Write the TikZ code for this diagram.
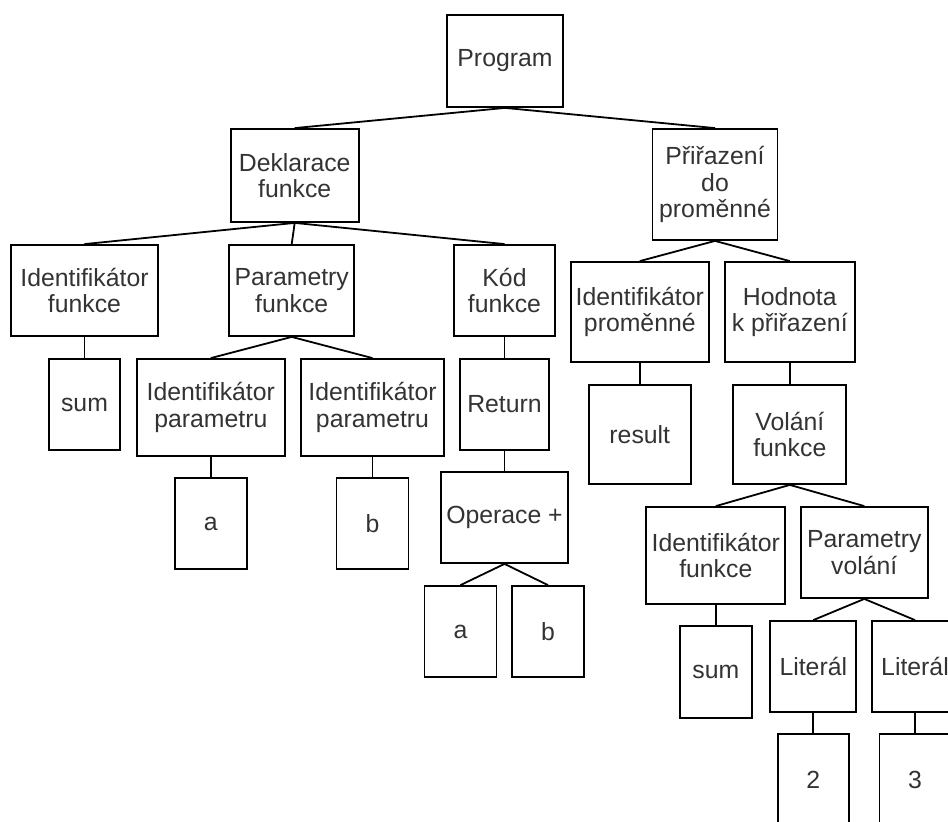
\documentclass[tikz,border=0pt]{standalone}
\usepackage{fontspec}
\setmainfont{Liberation Sans}
\usepackage{tikz}
\definecolor{textgray}{HTML}{333333}
\tikzset{
  box/.style={draw, line width=1.8pt, align=center, inner sep=0pt,
    text=textgray, font=\fontsize{24.8}{26.7}\selectfont},
  edge/.style={line width=1.8pt}
}

\begin{document}
\begin{tikzpicture}[x=1pt, y=-1pt]
            \clip (0,0) rectangle (948,822);

            \node[box, minimum width=116pt, minimum height=92pt] (prog) at (505,61) {Program};
            \node[box, minimum width=128pt, minimum height=93pt] (dekl) at (294.7,175.5) {Deklarace\\funkce};
            \node[box, minimum width=125pt, minimum height=111pt] (prir) at (715,184.5) {Přiřazení\\do\\proměnné};

            \node[box, minimum width=147pt, minimum height=91pt] (idfun) at (84.5,290.5) {Identifikátor\\funkce};
            \node[box, minimum width=125pt, minimum height=91pt] (parfun) at (291.7,290.5) {Parametry\\funkce};
            \node[box, minimum width=101pt, minimum height=91pt] (kod) at (504.5,290.5) {Kód\\funkce};

            \node[box, minimum width=71pt, minimum height=91pt] (sumA) at (84.5,404.5) {sum};
            \node[box, minimum width=148pt, minimum height=97pt] (idparA) at (210.8,407.5) {Identifikátor\\parametru};
            \node[box, minimum width=143pt, minimum height=97pt] (idparB) at (372.5,407.5) {Identifikátor\\parametru};
            \node[box, minimum width=89pt, minimum height=91pt] (ret) at (504.5,404.5) {Return};

            \node[box, minimum width=72pt, minimum height=91pt] (parA) at (210.8,523.5) {a};
            \node[box, minimum width=72pt, minimum height=91pt] (parB) at (372.5,523.5) {b};
            \node[box, minimum width=127pt, minimum height=91pt] (oper) at (504.5,517.5) {Operace +};
            \node[box, minimum width=72pt, minimum height=91pt] (opA) at (460.5,631.5) {a};
            \node[box, minimum width=72pt, minimum height=91pt] (opB) at (548,631.5) {b};

            \node[box, minimum width=138pt, minimum height=100pt] (idprom) at (639.8,312) {Identifikátor\\proměnné};
            \node[box, minimum width=130pt, minimum height=100pt] (hodn) at (789.8,312) {Hodnota\\k přiřazení};
            \node[box, minimum width=102pt, minimum height=99pt] (res) at (639.8,434.5) {result};
            \node[box, minimum width=113pt, minimum height=99pt] (vol) at (789.8,434.5) {Volání\\funkce};

            \node[box, minimum width=139pt, minimum height=97pt] (idfunB) at (715.8,555.5) {Identifikátor\\funkce};
            \node[box, minimum width=127pt, minimum height=91pt] (parvol) at (864.3,552.5) {Parametry\\volání};
            \node[box, minimum width=72pt, minimum height=92pt] (sumB) at (715.8,672) {sum};
            \node[box, minimum width=86pt, minimum height=91pt] (litA) at (813.3,666.5) {Literál};
            \node[box, minimum width=86pt, minimum height=91pt] (litB) at (915,666.5) {Literál};
            \node[box, minimum width=71pt, minimum height=91pt] (two) at (813.3,779.5) {2};
            \node[box, minimum width=71pt, minimum height=91pt] (three) at (915,779.5) {3};

            \draw[edge] (prog.south) -- (dekl.north);
            \draw[edge] (prog.south) -- (prir.north);
            \draw[edge] (dekl.south) -- (idfun.north);
            \draw[edge] (dekl.south) -- (parfun.north);
            \draw[edge] (dekl.south) -- (kod.north);
            \draw[edge] (idfun.south) -- (sumA.north);
            \draw[edge] (parfun.south) -- (idparA.north);
            \draw[edge] (parfun.south) -- (idparB.north);
            \draw[edge] (idparA.south) -- (parA.north);
            \draw[edge] (idparB.south) -- (parB.north);
            \draw[edge] (kod.south) -- (ret.north);
            \draw[edge] (ret.south) -- (oper.north);
            \draw[edge] (oper.south) -- (opA.north);
            \draw[edge] (oper.south) -- (opB.north);
            \draw[edge] (prir.south) -- (idprom.north);
            \draw[edge] (prir.south) -- (hodn.north);
            \draw[edge] (idprom.south) -- (res.north);
            \draw[edge] (hodn.south) -- (vol.north);
            \draw[edge] (vol.south) -- (idfunB.north);
            \draw[edge] (vol.south) -- (parvol.north);
            \draw[edge] (idfunB.south) -- (sumB.north);
            \draw[edge] (parvol.south) -- (litA.north);
            \draw[edge] (parvol.south) -- (litB.north);
            \draw[edge] (litA.south) -- (two.north);
            \draw[edge] (litB.south) -- (three.north);

        \end{tikzpicture}
\end{document}
